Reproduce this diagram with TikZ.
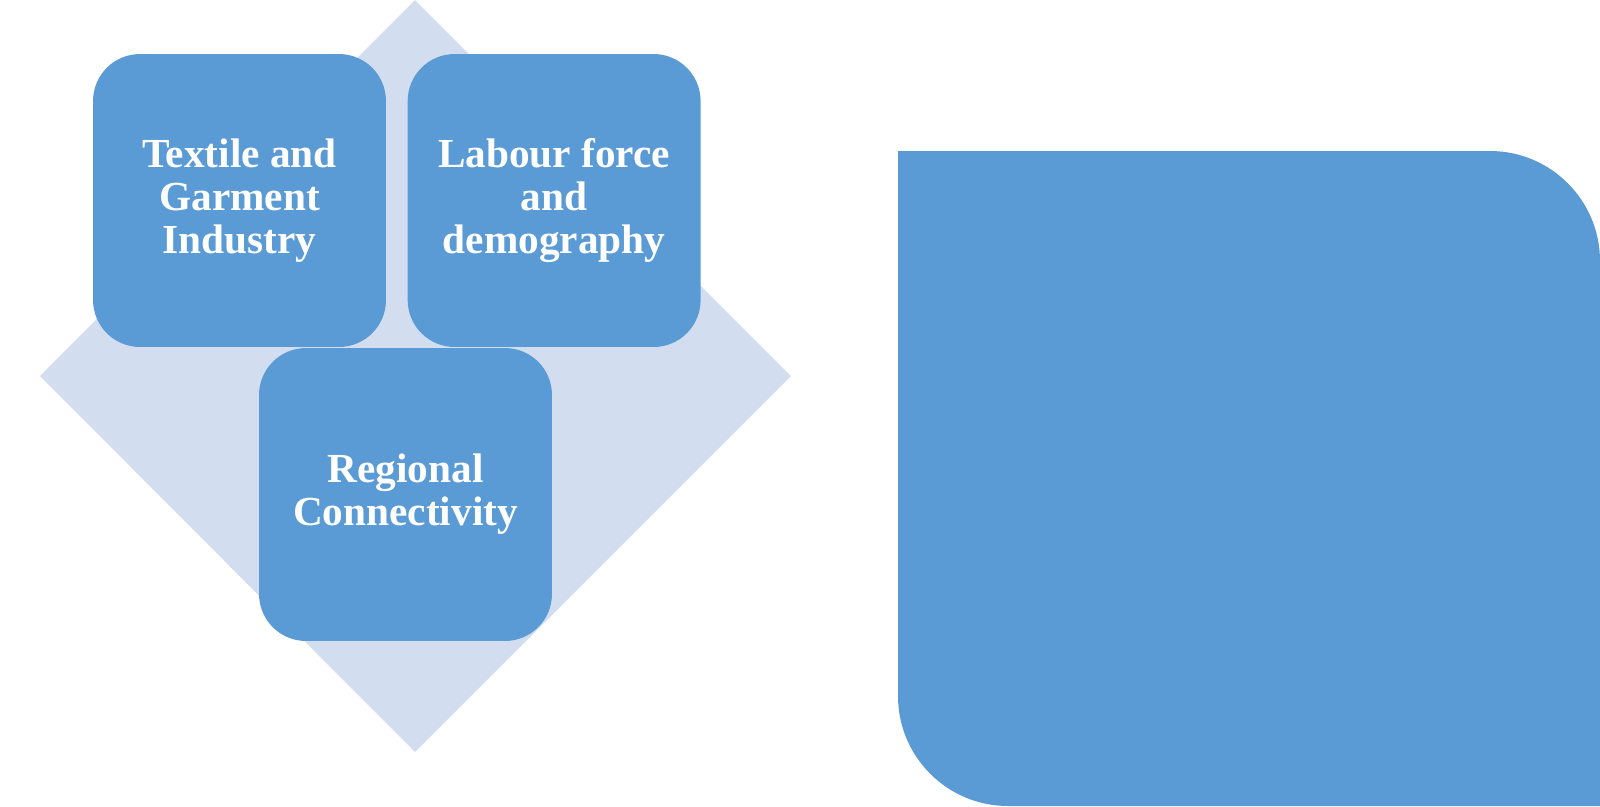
\documentclass[tikz,border=0pt]{standalone}
\usepackage{fontspec}
\setmainfont{Liberation Serif}
\usetikzlibrary{positioning}
\definecolor{tileblue}{HTML}{5B9BD5}
\definecolor{diamondblue}{HTML}{D2DEEF}
\tikzset{
    tile/.style = {fill=tileblue, rounded corners=0.94cm, minimum width=5.86cm,
        minimum height=5.86cm, inner sep=0pt, align=center, text=white,
        font=\fontsize{23.5}{24.6}\selectfont\bfseries}
}
\begin{document}
\begin{tikzpicture}[x=0.02cm, y=-0.02cm]
        \useasboundingbox (0,0) rectangle (1600,806);
        % background diamond
        \fill[diamondblue] (415,0) -- (791,376) -- (415,752) -- (40,376) -- cycle;
        \node[tile] (textile) at (239.5,200.5) {Textile and\\Garment\\Industry};
        \node[tile, right=0.42cm of textile] (labour) {Labour force\\and\\demography};
        \node[tile] (regional) at (405.5,494.5) {Regional\\Connectivity};
        % big panel on the right
        \fill[tileblue] (898,151) -- (1490,151) .. controls (1550.7,151) and (1600,200.3) .. (1600,261)
            -- (1600,806) -- (1008,806) .. controls (947.3,806) and (898,756.7) .. (898,696) -- cycle;
    \end{tikzpicture}
\end{document}
